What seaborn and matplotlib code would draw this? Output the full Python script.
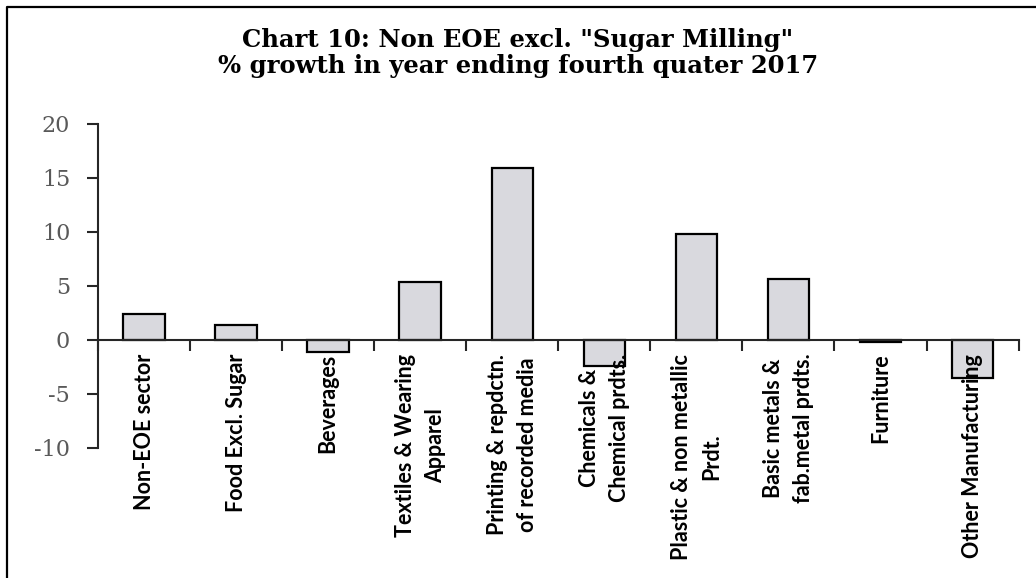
import matplotlib
matplotlib.use("Agg")
import matplotlib.pyplot as plt
import seaborn as sns
import pandas as pd
from matplotlib.lines import Line2D
from matplotlib.ticker import FixedLocator

# Chart data
categories = [
    "Non-EOE sector",
    "Food Excl. Sugar",
    "Beverages",
    "Textiles & Wearing\nApparel",
    "Printing & repdctn.\nof recorded media",
    "Chemicals &\nChemical prdts.",
    "Plastic & non metallic\nPrdt.",
    "Basic metals &\nfab.metal prdts.",
    "Furniture",
    "Other Manufacturing",
]
growth = [2.4, 1.4, -1.1, 5.4, 15.9, -2.4, 9.8, 5.6, -0.2, -3.5]
y_ticks = [-10, -5, 0, 5, 10, 15, 20]

title = 'Chart 10: Non EOE excl. "Sugar Milling"\n% growth in year ending fourth quater 2017'

df = pd.DataFrame({"sector": categories, "growth": growth})

sns.set_style("white")

fig = plt.figure(figsize=(10.36, 5.78), dpi=100)
ax = fig.add_axes([0.0946, 0.225, 0.8886, 0.5605])

sns.barplot(data=df, x="sector", y="growth", ax=ax, color="#d9d9de",
            edgecolor="black", linewidth=1.6, width=0.45, saturation=1)

ax.set_axisbelow(False)  # labels drawn over the negative bars, like the original
ax.set_ylim(-10, 20)
ax.set_xlim(-0.5, len(categories) - 0.5)
ax.set_yticks(y_ticks)
ax.set_yticklabels([str(v) for v in y_ticks], fontfamily="DejaVu Serif",
                   fontsize=16, color="#595959")

# spines: left axis and zero line only
for s in ["top", "right"]:
    ax.spines[s].set_visible(False)
ax.spines["bottom"].set_position(("data", 0))
ax.spines["left"].set_linewidth(1.5)
ax.spines["bottom"].set_linewidth(1.5)

ax.tick_params(axis="y", direction="out", length=8, width=1.5, left=True, pad=12)
ax.tick_params(axis="x", which="major", length=0, pad=10)
ax.xaxis.set_minor_locator(FixedLocator([i + 0.5 for i in range(-1, len(categories))]))
ax.tick_params(axis="x", which="minor", direction="out", length=8, width=1.5, bottom=True)

ax.set_xticks(range(len(categories)))
ax.set_xticklabels(categories, rotation=90, fontfamily="Lato", fontweight="bold",
                   fontsize=15.5, va="top", ha="center", multialignment="center",
                   linespacing=1.55, color="black")
ax.set_xlabel("")
ax.set_ylabel("")

fig.text(0.5, 0.908, title, ha="center", va="center", fontfamily="DejaVu Serif",
         fontweight="bold", fontsize=17.5, linespacing=1.1, color="black")

# outer chart frame (left and top edges)
fig.add_artist(Line2D([0.0068, 0.0068, 1.0], [0.0, 0.988, 0.988], transform=fig.transFigure,
                      color="black", linewidth=1.6))

fig.savefig("out.png", dpi=100)
